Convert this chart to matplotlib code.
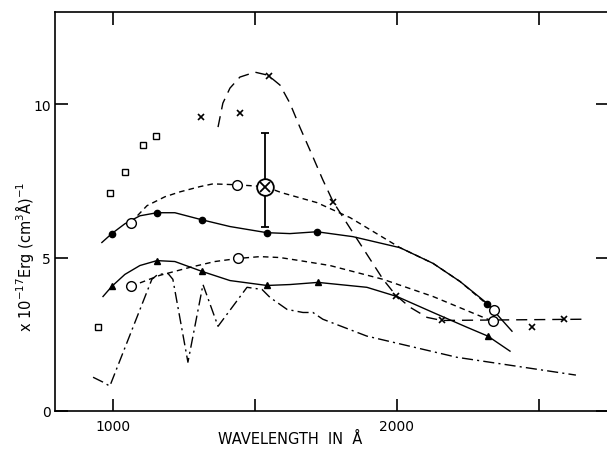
import numpy as np
import matplotlib
matplotlib.use("Agg")
import matplotlib.pyplot as plt

plt.rcParams['font.family'] = ['DejaVu Sans']
plt.rcParams['mathtext.default'] = 'regular'

# =======================
# Data
# =======================
# open squares
sq_wl = [947, 989, 1042, 1106, 1151]
sq_val = [2.73, 7.11, 7.79, 8.67, 8.96]

# crosses + long dashed curve
cross_wl = [1310, 1447, 1549, 1775, 1996, 2158, 2475, 2588]
cross_val = [9.58, 9.71, 10.91, 6.82, 3.75, 2.95, 2.73, 2.99]
ldash_wl = [1370, 1387, 1412, 1447, 1500, 1546, 1588, 1623, 1658, 1704, 1739,
            1775, 1845, 1951, 1996, 2046, 2106, 2158, 2655]
ldash_val = [9.25, 10.03, 10.52, 10.88, 11.04, 10.94, 10.62, 10.03, 9.25, 8.28, 7.53,
             6.82, 5.81, 4.29, 3.77, 3.38, 3.05, 2.95, 2.99]

# filled circles + solid curve (upper)
fc_wl = [996, 1155, 1313, 1542, 1718, 2317]
fc_val = [5.78, 6.46, 6.23, 5.81, 5.84, 3.49]
up_solid_wl = [961, 996, 1042, 1095, 1155, 1218, 1313, 1412, 1542, 1623, 1718,
               1845, 2011, 2127, 2222, 2317, 2405]
up_solid_val = [5.49, 5.78, 6.10, 6.36, 6.46, 6.46, 6.23, 6.01, 5.81, 5.78, 5.84,
                5.68, 5.32, 4.81, 4.22, 3.51, 2.60]

# open circles + short dashed curve (upper)
oc_up_wl = [1063, 1437, 2342]
oc_up_val = [6.14, 7.37, 3.28]
up_dash_wl = [1063, 1120, 1183, 1236, 1306, 1352, 1437, 1535, 1595, 1718, 1835,
              2011, 2127, 2222, 2342]
up_dash_val = [6.14, 6.69, 6.98, 7.14, 7.31, 7.40, 7.37, 7.31, 7.11, 6.79, 6.30,
               5.32, 4.81, 4.22, 3.28]

# filled triangles + solid curve (lower)
tri_wl = [996, 1155, 1313, 1542, 1722, 2320]
tri_val = [4.06, 4.90, 4.55, 4.09, 4.19, 2.44]
lo_solid_wl = [965, 996, 1042, 1095, 1155, 1218, 1313, 1412, 1542, 1623, 1722,
               1894, 2000, 2127, 2246, 2320, 2398]
lo_solid_val = [3.73, 4.06, 4.45, 4.74, 4.90, 4.87, 4.55, 4.25, 4.09, 4.12, 4.19,
                4.03, 3.73, 3.21, 2.73, 2.44, 1.95]

# open circles + short dashed curve (lower)
oc_lo_wl = [1063, 1440, 2338]
oc_lo_val = [4.06, 4.97, 2.92]
lo_dash_wl = [1063, 1165, 1271, 1359, 1440, 1518, 1588, 1658, 1764, 1951, 2127, 2338]
lo_dash_val = [4.06, 4.42, 4.68, 4.87, 4.97, 5.03, 5.00, 4.90, 4.74, 4.29, 3.73, 2.92]

# dash-dot curve
dd_wl = [930, 965, 989, 1137, 1158, 1194, 1211, 1264, 1317, 1370, 1472, 1525,
         1553, 1613, 1669, 1704, 1739, 1894, 2211, 2630]
dd_val = [1.10, 0.94, 0.81, 4.29, 4.45, 4.48, 4.29, 1.59, 4.12, 2.76, 4.03, 3.96,
          3.70, 3.31, 3.21, 3.21, 2.99, 2.44, 1.75, 1.17]

# single point with error bar
ebar_wl = 1535
ebar_val = 7.31
ebar_lo = 6.0
ebar_hi = 9.06

# =======================
# Plot
# =======================
fig = plt.figure(figsize=(6.07, 4.52), dpi=100)
ax = fig.add_axes([55 / 607, 40 / 452, 553 / 607, 399 / 452])

lw = 1.0
ax.plot(ldash_wl, ldash_val, color='k', lw=lw, dashes=(8, 5))
ax.plot(up_solid_wl, up_solid_val, color='k', lw=lw)
ax.plot(lo_solid_wl, lo_solid_val, color='k', lw=lw)
ax.plot(up_dash_wl, up_dash_val, color='k', lw=lw, dashes=(4, 3))
ax.plot(lo_dash_wl, lo_dash_val, color='k', lw=lw, dashes=(4, 3))
ax.plot(dd_wl, dd_val, color='k', lw=lw, dashes=(8, 3, 1.5, 3))

ax.plot(sq_wl, sq_val, 's', ms=5, mfc='white', mec='k', mew=1.0, ls='none')
ax.plot(cross_wl, cross_val, 'x', ms=4.5, mec='k', mew=1.2, ls='none')
ax.plot(fc_wl, fc_val, 'o', ms=4.5, color='k', ls='none')
ax.plot(tri_wl, tri_val, '^', ms=5, color='k', ls='none')
ax.plot(oc_up_wl, oc_up_val, 'o', ms=7, mfc='white', mec='k', mew=1.0, ls='none')
ax.plot(oc_lo_wl, oc_lo_val, 'o', ms=7, mfc='white', mec='k', mew=1.0, ls='none')

ax.errorbar([ebar_wl], [ebar_val], yerr=[[ebar_val - ebar_lo], [ebar_hi - ebar_val]],
            fmt='none', ecolor='k', elinewidth=1.3, capsize=3, capthick=1.3)
ax.plot([ebar_wl], [ebar_val], 'o', ms=12, mfc='white', mec='k', mew=1.3)
ax.plot([ebar_wl], [ebar_val], 'x', ms=7, mec='k', mew=1.3)

ax.set_xlim(796, 2743)
ax.set_ylim(0, 13)

ax.set_xticks([1000, 1500, 2000, 2500])
ax.set_xticklabels(['1000', '', '2000', ''])
ax.set_yticks([0, 5, 10])
ax.tick_params(direction='in', length=9, width=1.2, top=True, right=True,
               labelsize=10)
ax.tick_params(axis='x', pad=6)
ax.tick_params(axis='y', pad=3)
for s in ax.spines.values():
    s.set_linewidth(1.2)

ax.set_xlabel('WAVELENGTH  IN  Å', fontsize=10.5)
ax.xaxis.set_label_coords(0.425, -0.05)
ax.set_ylabel('x 10$^{-17}$Erg (cm$^{3}$Å)$^{-1}$', fontsize=10.5)
ax.yaxis.set_label_coords(-0.035, 0.39)

fig.savefig('out.png', dpi=100)
